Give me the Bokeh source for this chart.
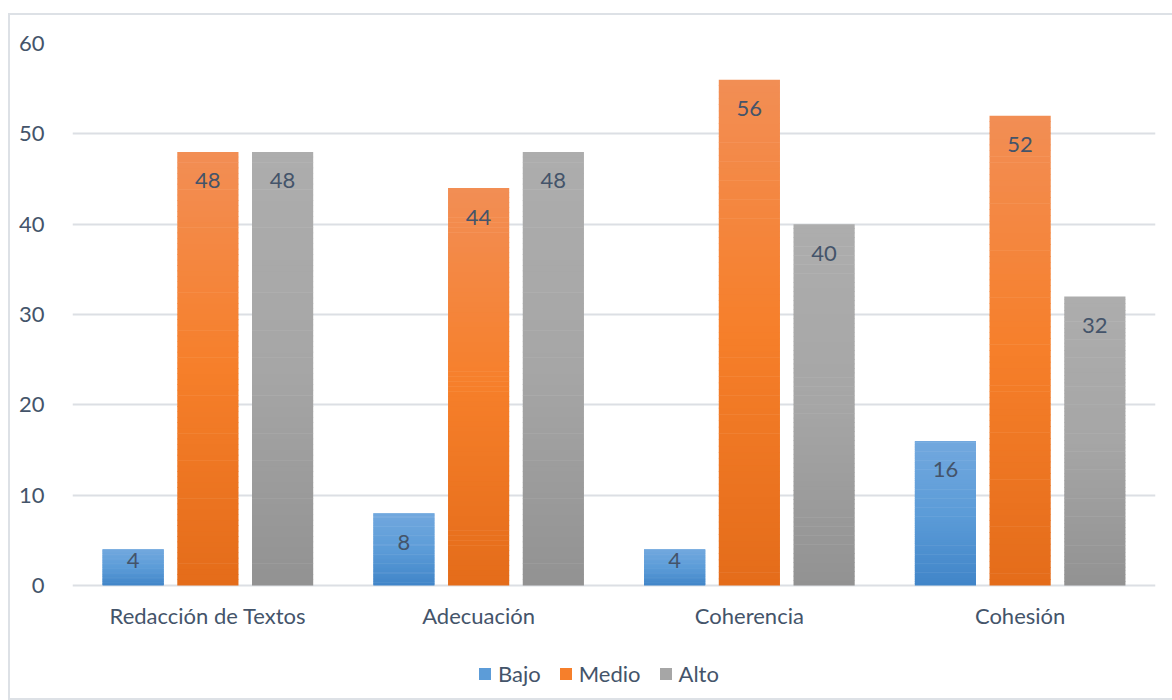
import numpy as np
from bokeh.plotting import figure
from bokeh.models import (ColumnDataSource, FactorRange, Range1d, FixedTicker,
                          LabelSet, Legend, LegendItem)
from bokeh.transform import dodge
from bokeh.core.properties import value
from bokeh.embed import file_html
from bokeh.resources import INLINE

categories = ["Redacción de Textos", "Adecuación", "Coherencia", "Cohesión"]
series_names = ["Bajo", "Medio", "Alto"]
bajo = [4, 8, 4, 16]
medio = [48, 44, 56, 52]
alto = [48, 48, 40, 32]
y_ticks = [0, 10, 20, 30, 40, 50, 60]

FONT = "Lato"
TEXT_COLOR = "#44546A"
GRID_COLOR = "#DCDFE4"

# (light top, base middle, dark bottom)
gradients = {
    "Bajo": ("#72A8DE", "#5C9CD8", "#4185C8"),
    "Medio": ("#F28E55", "#F67F2A", "#E46C1A"),
    "Alto": ("#ADADAD", "#A6A6A6", "#929292"),
}
offsets = {"Bajo": -0.276, "Medio": 0.0, "Alto": 0.276}
BAR_W = 0.226
N_SLICES = 80

PLOT_PX = 542       # pixel height of the 0..60 value area
EXTRA_PX = 113      # room below zero for category labels and legend
y_max = 60
y_min = -y_max * EXTRA_PX / PLOT_PX

p = figure(x_range=FactorRange(factors=categories), y_range=Range1d(y_min, y_max),
           frame_width=1083, frame_height=PLOT_PX + EXTRA_PX,
           output_backend="svg", toolbar_location=None,
           min_border_left=62, min_border_right=17, min_border_top=28,
           min_border_bottom=0, margin=(13, 0, 0, 8))
p.styles = {"border": "2px solid #DDE1E6"}
p.outline_line_color = None
p.background_fill_color = "white"
p.border_fill_color = "white"


def hex2rgb(h):
    h = h.lstrip("#")
    return np.array([int(h[i:i + 2], 16) for i in (0, 2, 4)], dtype=float)


def mix(c1, c2, t):
    c = hex2rgb(c1) * (1 - t) + hex2rgb(c2) * t
    return "#%02x%02x%02x" % tuple(int(round(v)) for v in c)


def grad_color(stops, t):
    light, mid, dark = stops
    if t <= 0.5:
        return mix(light, mid, t / 0.5)
    return mix(mid, dark, (t - 0.5) / 0.5)


data = {"Bajo": bajo, "Medio": medio, "Alto": alto}
legend_items = []
ppu = PLOT_PX / 60.0
overlap = 0.6 / ppu
for name in series_names:
    vals = data[name]
    xs, bots, tops, cols = [], [], [], []
    for cat, v in zip(categories, vals):
        for i in range(N_SLICES):
            f = (i + 0.5) / N_SLICES
            xs.append(cat)
            bots.append(v * i / N_SLICES)
            t = v * (i + 1) / N_SLICES
            if i < N_SLICES - 1:
                t += overlap
            tops.append(t)
            cols.append(grad_color(gradients[name], 1 - f))
    src = ColumnDataSource(dict(cat=xs, bottom=bots, top=tops, color=cols))
    r = p.vbar(x=dodge("cat", offsets[name], range=p.x_range), width=BAR_W,
               bottom="bottom", top="top", fill_color="color", line_color=None,
               source=src)
    legend_items.append(LegendItem(label=name, renderers=[r], index=N_SLICES // 2))

    offs = [-29 if v * ppu >= 58 else -11 for v in vals]
    lsrc = ColumnDataSource(dict(cat=categories, v=vals,
                                 txt=[str(v) for v in vals], off=offs))
    labels = LabelSet(x=dodge("cat", offsets[name], range=p.x_range), y="v",
                      text="txt", y_offset="off", source=lsrc,
                      text_align="center", text_baseline="middle",
                      text_font=value(FONT), text_font_size="22px",
                      text_color=TEXT_COLOR)
    p.add_layout(labels)

# category labels (x axis)
csrc = ColumnDataSource(dict(cat=categories, y=[0] * len(categories)))
cat_labels = LabelSet(x="cat", y="y", text="cat", y_offset=-30, source=csrc,
                      text_align="center", text_baseline="middle",
                      text_font=value(FONT), text_font_size="22px",
                      text_color=TEXT_COLOR)
p.add_layout(cat_labels)
p.xaxis.visible = False

# y axis
p.yaxis.ticker = FixedTicker(ticks=y_ticks)
p.yaxis.axis_line_color = None
p.yaxis.major_tick_line_color = None
p.yaxis.minor_tick_line_color = None
p.yaxis.major_label_standoff = 22
p.yaxis.major_label_text_font = FONT
p.yaxis.major_label_text_font_size = "22px"
p.yaxis.major_label_text_color = TEXT_COLOR

p.xgrid.grid_line_color = None
p.ygrid.ticker = FixedTicker(ticks=y_ticks)
p.ygrid.grid_line_color = GRID_COLOR
p.ygrid.grid_line_width = 2

legend = Legend(items=legend_items, orientation="horizontal", location=(405, 11),
                glyph_width=15, glyph_height=15, label_standoff=6, spacing=17,
                label_text_font=FONT, label_text_font_size="22px",
                label_text_color=TEXT_COLOR, border_line_color=None,
                background_fill_alpha=0, margin=0, padding=4)
p.add_layout(legend, "center")

open("out.html", "w").write(file_html(p, INLINE))
